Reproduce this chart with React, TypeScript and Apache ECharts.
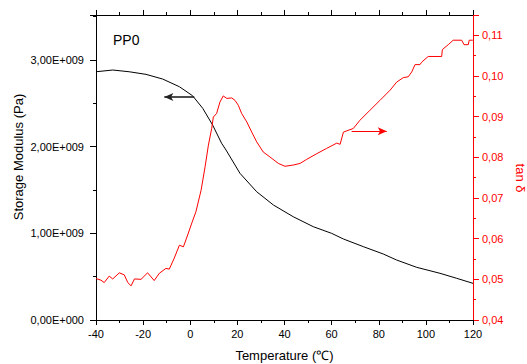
import React, { useEffect, useRef } from "react";
import * as echarts from "echarts";

// Storage modulus (black), values in units of 1e9 Pa
const modulusTemp = [-40, -32.9, -25.9, -18.8, -11.7, -4.6, 1.0, 5.3, 9.5, 13.3, 15.2, 21.1, 28.2, 35.3, 43.7, 52.2, 60, 65, 73.5, 81.9, 87.6, 96.1, 106, 113.1, 120];
const modulusValue = [2.865, 2.885, 2.865, 2.835, 2.781, 2.692, 2.588, 2.443, 2.25, 2.04, 1.961, 1.693, 1.48, 1.327, 1.192, 1.077, 1.0, 0.935, 0.846, 0.762, 0.692, 0.608, 0.539, 0.481, 0.423];

// tan delta (red)
const tanTemp = [-40, -37.9, -36.5, -34.4, -32.9, -30.1, -28.0, -26.5, -25.1, -23.7, -20.9, -18.1, -15.3, -13.1, -10.3, -8.9, -6.8, -4.6, -2.9, -1.1, 0.7, 2.4, 4.6, 6.3, 7.7, 9.1, 9.8, 11.2, 12.6, 14.0, 15.5, 17.6, 19.0, 20.4, 21.8, 24.0, 26.1, 28.2, 31.0, 33.8, 37.4, 40.2, 43.7, 46.6, 49.4, 53.7, 57.9, 62.2, 63.6, 65.0, 69.2, 72.0, 76.3, 80.5, 84.8, 87.6, 90.4, 92.5, 94.0, 95.4, 97.5, 98.2, 101.0, 106.7, 107.0, 109.5, 111.6, 115.2, 116.2, 118.0, 118.4, 119.9];
const tanValue = [0.0502, 0.0498, 0.0492, 0.0508, 0.0501, 0.0516, 0.0511, 0.0492, 0.0484, 0.0501, 0.05, 0.0516, 0.0497, 0.0515, 0.0527, 0.0525, 0.0552, 0.0584, 0.058, 0.0609, 0.0639, 0.0666, 0.0719, 0.0777, 0.083, 0.0871, 0.0899, 0.0908, 0.0936, 0.0951, 0.0945, 0.0946, 0.094, 0.0928, 0.0908, 0.0887, 0.0862, 0.0838, 0.0813, 0.0801, 0.0785, 0.0778, 0.0781, 0.0785, 0.0795, 0.0809, 0.0822, 0.0835, 0.0832, 0.0862, 0.0871, 0.0891, 0.0916, 0.094, 0.0965, 0.0985, 0.0996, 0.0998, 0.101, 0.1028, 0.1028, 0.1034, 0.1048, 0.1048, 0.1065, 0.1077, 0.1088, 0.1088, 0.1077, 0.1077, 0.1088, 0.1088];

// Arrow annotations [T start, T end, value]
const modulusArrow = [1.7, -11.0, 2.573];
const tanArrow = [68.5, 83.4, 0.0864];

// Axis ranges / tick steps
const xRange = [-40, 120];
const xMajorStep = 20;
const xMinorStep = 10;
const leftRange = [0, 3.52];
const leftMajorStep = 1;
const leftMinorStep = 0.5;
const rightRange = [0.04, 0.115];
const rightMajorStep = 0.01;
const rightMinorStep = 0.005;

const FONT = "Liberation Sans, Arial, Helvetica, sans-serif";
const RED = "#ff0000";
const E9 = 1e9;

function isMultiple(v: number, step: number) {
  const k = v / step;
  return Math.abs(k - Math.round(k)) < 1e-6;
}

export default function App() {
  const ref = useRef<HTMLDivElement>(null);
  useEffect(() => {
    if (!ref.current) return;
    const chart = echarts.init(ref.current, undefined, { renderer: "svg" });
    const fmtLeft = (v: number) => {
      const g = v / E9;
      if (!isMultiple(g, leftMajorStep)) return "";
      return g === 0 ? "0,00E+000" : g.toFixed(2).replace(".", ",") + "E+009";
    };
    const fmtRight = (v: number) => {
      if (!isMultiple(v, rightMajorStep)) return "";
      return v.toFixed(2).replace(".", ",");
    };
    const baseX = (position: string, step: number, tickLen: number, showLine: boolean, labels: boolean) => ({
      type: "value",
      position,
      min: xRange[0],
      max: xRange[1],
      interval: step,
      axisLine: { show: showLine, onZero: false, lineStyle: { color: "#000", width: 1 } },
      axisTick: { show: true, length: tickLen, inside: false, lineStyle: { color: "#000", width: 1 } },
      axisLabel: labels
        ? { show: true, margin: 8, color: "#000", fontSize: 11, fontFamily: FONT }
        : { show: false },
      splitLine: { show: false },
    });
    const option: any = {
      animation: false,
      textStyle: { fontFamily: FONT },
      grid: { left: 96, right: 54, top: 15, bottom: 44, containLabel: false, outerBoundsMode: "none" },
      xAxis: [
        {
          ...baseX("bottom", xMajorStep, 5, true, true),
          name: "Temperature (\u2103)",
          nameLocation: "middle",
          nameGap: 29,
          nameTextStyle: { fontSize: 13, color: "#000", fontFamily: FONT },
        },
        baseX("top", xMajorStep, 5, true, false),
        baseX("bottom", xMinorStep, 3, false, false),
        baseX("top", xMinorStep, 3, false, false),
      ],
      yAxis: [
        {
          type: "value",
          position: "left",
          min: leftRange[0] * E9,
          max: leftRange[1] * E9,
          interval: leftMajorStep * E9,
          axisLine: { show: true, onZero: false, lineStyle: { color: "#000", width: 1 } },
          axisTick: { show: true, length: 6, inside: false, lineStyle: { color: "#000", width: 1 } },
          axisLabel: { show: true, margin: 12, color: "#000", fontSize: 11, fontFamily: FONT, formatter: fmtLeft },
          splitLine: { show: false },
        },
        {
          type: "value",
          position: "right",
          min: rightRange[0],
          max: rightRange[1],
          interval: rightMajorStep,
          axisLine: { show: true, onZero: false, lineStyle: { color: RED, width: 1 } },
          axisTick: { show: true, length: 6, inside: false, lineStyle: { color: RED, width: 1 } },
          axisLabel: { show: true, margin: 9, color: RED, fontSize: 11, fontFamily: FONT, formatter: fmtRight },
          splitLine: { show: false },
        },
        {
          type: "value",
          position: "left",
          min: leftRange[0] * E9,
          max: leftRange[1] * E9,
          interval: leftMinorStep * E9,
          axisLine: { show: false, onZero: false },
          axisTick: { show: true, length: 3, inside: false, lineStyle: { color: "#000", width: 1 } },
          axisLabel: { show: false },
          splitLine: { show: false },
        },
        {
          type: "value",
          position: "right",
          min: rightRange[0],
          max: rightRange[1],
          interval: rightMinorStep,
          axisLine: { show: false, onZero: false },
          axisTick: { show: true, length: 3, inside: false, lineStyle: { color: RED, width: 1 } },
          axisLabel: { show: false },
          splitLine: { show: false },
        },
      ],
      series: [
        {
          type: "line",
          xAxisIndex: 0,
          yAxisIndex: 0,
          showSymbol: false,
          symbol: "none",
          lineStyle: { color: "#000", width: 1 },
          data: modulusTemp.map((t, i) => [t, modulusValue[i] * E9]),
          markLine: {
            silent: true,
            symbol: ["none", "arrow"],
            symbolSize: [6, 9],
            label: { show: false },
            lineStyle: { color: "#222", width: 1.6, type: "solid" },
            data: [[
              { coord: [modulusArrow[0], modulusArrow[2] * E9] },
              { coord: [modulusArrow[1], modulusArrow[2] * E9] },
            ]],
          },
        },
        {
          type: "line",
          xAxisIndex: 0,
          yAxisIndex: 1,
          showSymbol: false,
          symbol: "none",
          lineStyle: { color: RED, width: 1 },
          data: tanTemp.map((t, i) => [t, tanValue[i]]),
          markLine: {
            silent: true,
            symbol: ["none", "arrow"],
            symbolSize: [6, 9],
            label: { show: false },
            lineStyle: { color: RED, width: 1, type: "solid" },
            data: [[
              { coord: [tanArrow[0], tanArrow[2]] },
              { coord: [tanArrow[1], tanArrow[2]] },
            ]],
          },
        },
      ],
      graphic: [
        {
          type: "text",
          left: 113,
          top: 33,
          style: { text: "PP0", fontSize: 14, fill: "#000", fontFamily: FONT },
        },
        {
          type: "text",
          x: 18,
          y: 157,
          rotation: Math.PI / 2,
          style: { text: "Storage Modulus (Pa)", fontSize: 13, fill: "#000", fontFamily: FONT, align: "center", verticalAlign: "middle" },
        },
        {
          type: "text",
          x: 520,
          y: 178,
          rotation: -Math.PI / 2,
          style: { text: "tan \u03b4", fontSize: 13, fill: RED, fontFamily: FONT, align: "center", verticalAlign: "middle" },
        },
      ],
    };
    chart.setOption(option);
    return () => chart.dispose();
  }, []);
  return (
    <div
      ref={ref}
      style={{ position: "fixed", left: 0, top: 0, width: 527, height: 364, background: "#fff" }}
    />
  );
}
